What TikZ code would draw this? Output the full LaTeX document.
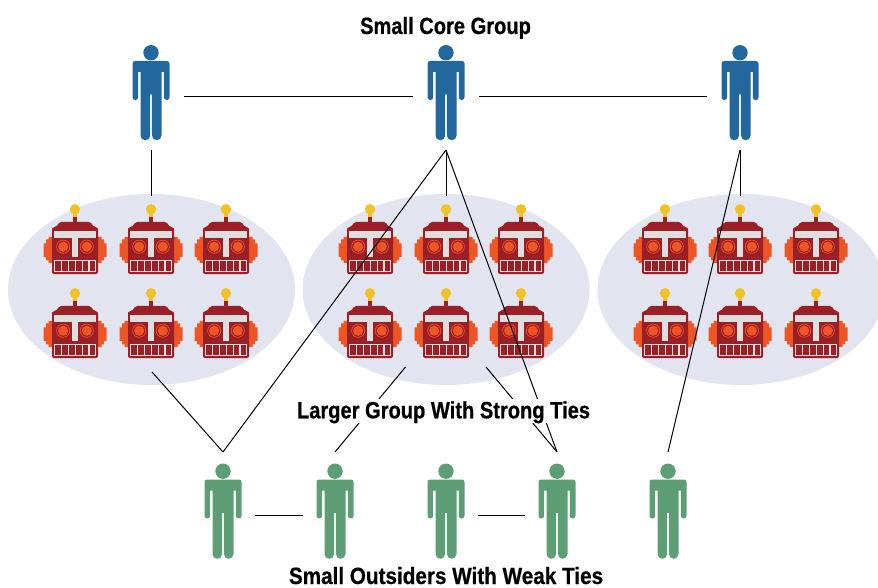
\documentclass[tikz,border=0pt]{standalone}
\usepackage{fontspec}
\newfontfamily\labelfont[FakeStretch=0.855, BoldFeatures={FakeBold=0.6}]{Liberation Sans}
\definecolor{CoreBlue}{HTML}{22689F}
\definecolor{OutsiderGreen}{HTML}{5E9E75}
\definecolor{GroupGrey}{HTML}{E2E5EF}
\definecolor{RobotRed}{HTML}{9B1F27}
\definecolor{RobotOrange}{HTML}{EE5524}
\definecolor{RobotYellow}{HTML}{F0C224}
\definecolor{RobotGrey}{HTML}{DEDEDE}
\usetikzlibrary{shapes.geometric, positioning}
\tikzset{
  % Node styles
  corenode/.style={rectangle, minimum width=66pt, minimum height=106pt, inner sep=0pt, outer sep=0pt},
  outsidernode/.style={rectangle, minimum width=64pt, minimum height=127pt, inner sep=0pt, outer sep=0pt},
  groupnode/.style={ellipse, fill=GroupGrey, minimum width=287pt, minimum height=191pt, inner sep=0pt, outer sep=0pt},
  titlelabel/.style={font=\labelfont\bfseries\fontsize{23.5}{25}\selectfont, inner sep=0pt, anchor=base},
  % Arrow styles
  tieline/.style={line width=1pt, black},
  % Figures
  pics/person/.style={code={
    \fill[#1] (0,44.3) circle (7.7);
    \fill[#1] (-18.5,33.5) arc (180:90:2.5) -- (16,36) arc (90:0:2.5) -- (18.5,-0.2) arc (0:-180:2.85)
      -- (12.8,25) -- (10.5,25) -- (10.5,-38.5) arc (0:-180:4.75) -- (0.9,2.7) -- (-0.9,2.7)
      -- (-0.9,-38.5) arc (0:-180:4.8) -- (-10.5,25) -- (-12.8,25) -- (-12.8,-0.2) arc (0:-180:2.85) -- cycle;
  }},
  pics/robot/.style={code={
    % Ears
    \foreach \s in {-1,1} {
      \fill[RobotOrange, xscale=\s] (22,-27.5) -- (26.5,-27.5) -- (26.5,-30) -- (29,-30) -- (29,-34) -- (31.5,-34)
        -- (31.5,-47.5) -- (29,-47.5) -- (29,-51) -- (26.5,-51) -- (26.5,-53.5) -- (22,-53.5) -- cycle;
    }
    % Antenna
    \fill[RobotYellow] (0,0) circle (5.2);
    \fill[RobotYellow] (-2.3,-3) rectangle (2.3,-8);
    \fill[RobotRed] (-2.3,-8) rectangle (2.3,-13);
    % Head
    \fill[RobotRed, rounded corners=2pt] (-23,-64.7) -- (-23,-18) -- (-19,-18) -- (-15.5,-12.5) -- (15.5,-12.5)
      -- (19,-18) -- (23,-18) -- (23,-64.7) -- cycle;
    \fill[RobotGrey] (-21,-22) rectangle (21,-28.7);
    \fill[RobotGrey] (-3.3,-28.7) rectangle (3.3,-47.7);
    % Eyes
    \foreach \s in {-1,1} {
      \draw[RobotOrange, line width=0.7pt] (\s*11.8,-37.4) circle (6.6);
      \fill[RobotOrange] (\s*11.8,-37.4) circle (5.1);
    }
    % Teeth
    \fill[RobotGrey] (-21,-50.7) rectangle (21,-62.7);
    \foreach \i in {0,...,5} {
      \fill[RobotRed] (-19.9+\i*6.9,-52) rectangle (-14.2+\i*6.9,-61.6);
    }
  }}
}
\begin{document}
\begin{tikzpicture}[x=1pt, y=1pt]
  \useasboundingbox (0,0) rectangle (878,-588);

  % Groups
  \node[groupnode] (g1) at (151.5,-289.5) {};
  \node[groupnode] (g2) at (446,-289.5) {};
  \node[groupnode] (g3) at (741,-289.5) {};

  % Robots
  \foreach \cx in {75,151,226,370,446,521,665,740,816} {
    \foreach \cy in {-209.3,-293.3} {
      \pic at (\cx,\cy) {robot};
    }
  }

  % Small core group
  \node[corenode] (c1) at (151,-97) {};
  \node[corenode] (c2) at (446,-97) {};
  \node[corenode] (c3) at (740,-97) {};
  \foreach \p in {c1,c2,c3} {
    \pic at (\p) {person=CoreBlue};
  }

  % Outsiders
  \node[outsidernode] (o1) at (223,-515.5) {};
  \node[outsidernode] (o2) at (335,-515.5) {};
  \node[outsidernode] (o3) at (446,-515.5) {};
  \node[outsidernode] (o4) at (557,-515.5) {};
  \node[outsidernode] (o5) at (668,-515.5) {};
  \foreach \p in {o1,o2,o3,o4,o5} {
    \pic at (\p) {person=OutsiderGreen};
  }

  % Free ends inside the groups
  \coordinate (g1b) at (152,-372);
  \coordinate (g2l) at (405.5,-367);
  \coordinate (g2r) at (486,-367);

  % Ties
  \draw[tieline] (c1) -- (c2);
  \draw[tieline] (c2) -- (c3);
  \draw[tieline, shorten >=-2pt] (c1.south) -- (c1.south |- g1.north);
  \draw[tieline, shorten >=-2pt] (c2.south) -- (c2.south |- g2.north);
  \draw[tieline, shorten >=-2pt] (c3.south) -- (c3.south |- g3.north);
  \draw[tieline] (c2.south) -- (o1.north);
  \draw[tieline] (c2.south) -- (o4.north);
  \draw[tieline] (c3.south) -- (o5.north);
  \draw[tieline] (g1b) -- (o1.north);
  \draw[tieline] (g2l) -- (o2.north);
  \draw[tieline] (g2r) -- (o4.north);
  \draw[tieline] (o1) -- (o2);
  \draw[tieline] (o3) -- (o4);

  % Labels
  \node[titlelabel] (coretitle) at (445.5,-34) {Small Core Group};
  \node[rectangle, fill=white, minimum width=296pt, minimum height=24pt, inner sep=0pt] (groupmask) at (443.5,-411) {};
  \node[titlelabel] (grouptitle) at (443.5,-418.3) {Larger Group With Strong Ties};
  \node[titlelabel, xscale=1.03] (outsidertitle) at (446,-584) {Small Outsiders With Weak Ties};
\end{tikzpicture}
\end{document}
